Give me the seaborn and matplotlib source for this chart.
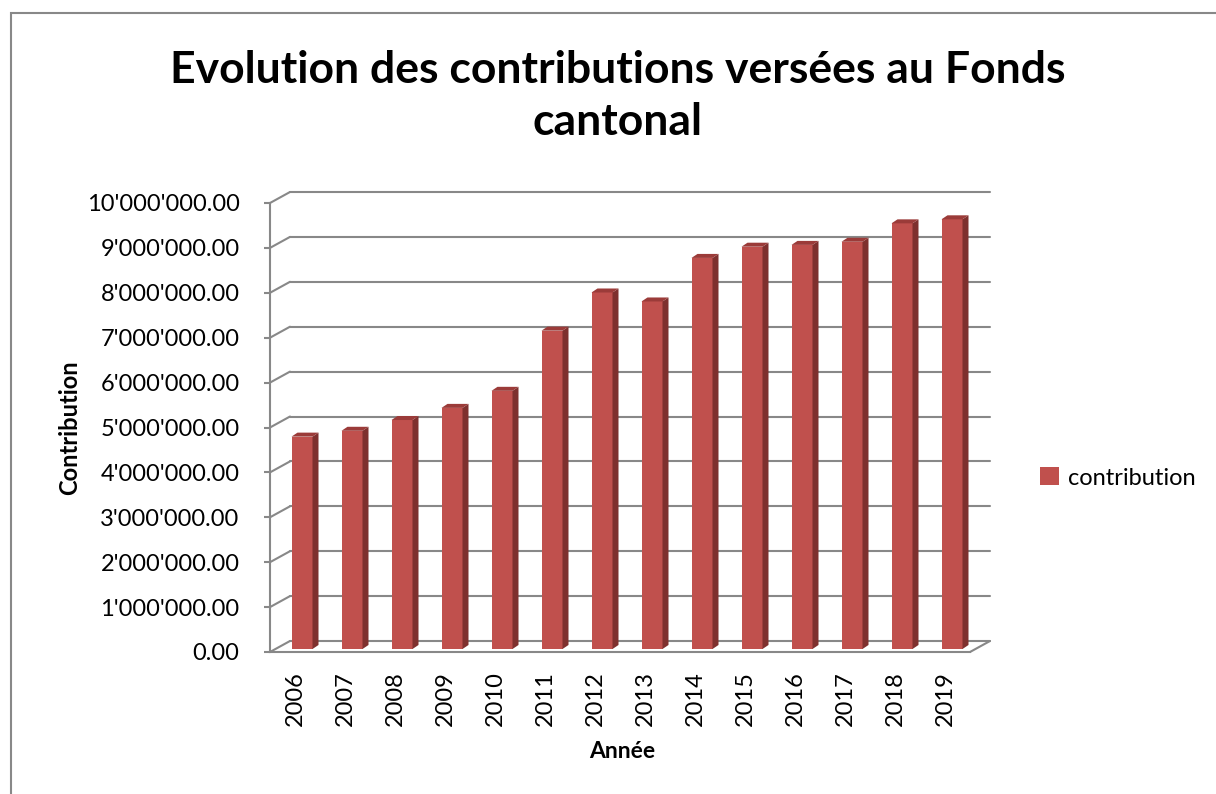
import numpy as np
import pandas as pd
import matplotlib
matplotlib.use("Agg")
import matplotlib.pyplot as plt
import seaborn as sns
from matplotlib.patches import Polygon, Rectangle
from matplotlib.transforms import ScaledTranslation
from matplotlib.ticker import FuncFormatter

# données
annees = ["2006", "2007", "2008", "2009", "2010", "2011", "2012",
          "2013", "2014", "2015", "2016", "2017", "2018", "2019"]
contributions = [4730000, 4860000, 5100000, 5370000, 5750000, 7090000, 7940000,
                 7740000, 8710000, 8960000, 9000000, 9070000, 9480000, 9570000]
yticks = [0, 1e6, 2e6, 3e6, 4e6, 5e6, 6e6, 7e6, 8e6, 9e6, 10e6]

df = pd.DataFrame({"Année": annees, "Contribution": contributions})

sns.set_style("white")
plt.rcParams["font.family"] = ["Lato", "DejaVu Sans"]
plt.rcParams["text.color"] = "black"
plt.rcParams["xtick.color"] = "black"
plt.rcParams["ytick.color"] = "black"

ROUGE = "#C0504D"
COTE = "#7E302E"
DESSUS = "#9B3B39"
GRIS = "#888888"

W, H, DPI = 1216, 794, 100
fig = plt.figure(figsize=(W / DPI, H / DPI), dpi=DPI)

# plan avant : x 270..970 px, y 652 (0) .. 203 (10M)
ax = fig.add_axes([270 / W, 1 - 652 / H, 700 / W, 449 / H])

sns.barplot(data=df, x="Année", y="Contribution", color=ROUGE, width=0.42,
            saturation=1, ax=ax, label="contribution", zorder=3)
ax.set_xlim(-0.5, 13.5)
ax.set_ylim(0, 10e6)

px_x = 700 / 14          # pixels par catégorie
px_y = 449 / 10e6        # pixels par unité
def dx(p):
    return p / px_x
def dy(p):
    return p / px_y

# décalage des barres (profondeur)
off_bar = ScaledTranslation(7 / DPI, 3 / DPI, fig.dpi_scale_trans)
for bar in ax.patches:
    bar.set_transform(ax.transData + off_bar)
    bar.set_edgecolor("none")
    x0, w, h = bar.get_x(), bar.get_width(), bar.get_height()
    ddx, ddy = dx(6), dy(4)
    side = Polygon([(x0 + w, 0), (x0 + w + ddx, ddy), (x0 + w + ddx, h + ddy), (x0 + w, h)],
                   closed=True, facecolor=COTE, edgecolor="none", zorder=3,
                   transform=ax.transData + off_bar, clip_on=False)
    top = Polygon([(x0, h), (x0 + ddx, h + ddy), (x0 + w + ddx, h + ddy), (x0 + w, h)],
                  closed=True, facecolor=DESSUS, edgecolor="none", zorder=3,
                  transform=ax.transData + off_bar, clip_on=False)
    ax.add_patch(side)
    ax.add_patch(top)

# mur du fond et lignes de quadrillage
bx, by = dx(20), dy(11)
for v in yticks:
    ax.plot([-0.5 + bx, 13.5 + bx], [v + by, v + by], color=GRIS, lw=1.5,
            zorder=1, clip_on=False)
    ax.plot([-0.5, -0.5 + bx], [v, v + by], color=GRIS, lw=1.5,
            zorder=1, clip_on=False)
ax.plot([13.5, 13.5 + bx], [0, by], color=GRIS, lw=1.5, zorder=1, clip_on=False)

for s in ["top", "right"]:
    ax.spines[s].set_visible(False)
for s in ["left", "bottom"]:
    ax.spines[s].set_color(GRIS)
    ax.spines[s].set_linewidth(1.5)

ax.set_yticks(yticks)
ax.yaxis.set_major_formatter(FuncFormatter(lambda v, p: f"{v:,.2f}".replace(",", "'")))
ax.tick_params(axis="y", length=4, width=1.5, color=GRIS, labelcolor="black",
               direction="out", labelsize=17, pad=18, left=True)
ax.tick_params(axis="x", length=0, labelsize=17, labelcolor="black", pad=14,
               labelrotation=90)
ax.set_xlabel("")
ax.set_ylabel("")

fig.text(618 / W, 1 - 96 / H, "Evolution des contributions versées au Fonds\ncantonal",
         ha="center", va="center", fontsize=32, fontweight="bold", linespacing=1.38)
fig.text(70 / W, 1 - 428 / H, "Contribution", rotation=90, ha="center", va="center",
         fontsize=17, fontweight="bold")
fig.text(622 / W, 1 - 752 / H, "Année", ha="center", va="center",
         fontsize=16.5, fontweight="bold")

leg = ax.legend(loc="center left", bbox_to_anchor=(1040 / W, 1 - 478 / H),
                bbox_transform=fig.transFigure, frameon=False, fontsize=17,
                handlelength=0.8, handleheight=0.8, handletextpad=0.4,
                borderaxespad=0, borderpad=0)

# cadre extérieur
fig.patches.append(Rectangle((11 / W, -0.05), 1.2, 1 - 13 / H + 0.05,
                             transform=fig.transFigure, fill=False,
                             edgecolor=GRIS, linewidth=1.5))

fig.savefig("out.png", dpi=DPI)
